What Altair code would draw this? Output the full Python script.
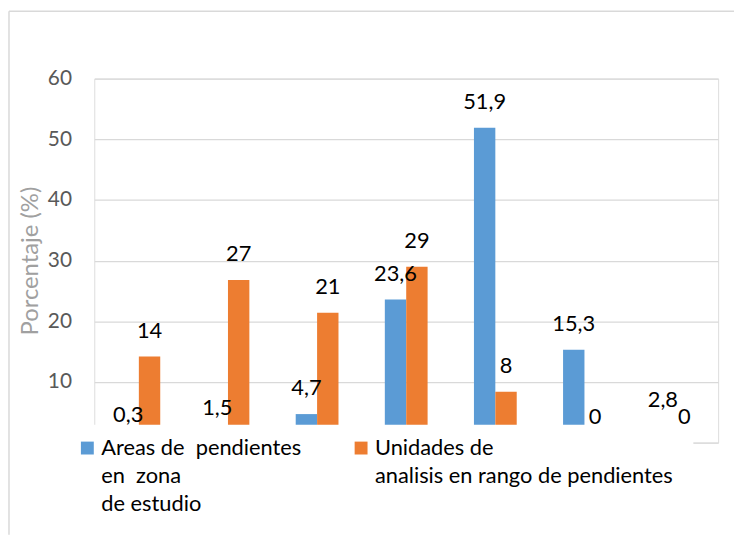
import altair as alt
import pandas as pd

categories = ["0-3", "3-7", "7-12", "12-25", "25-50", "50-75", ">75"]
series = ["Areas de \u00a0pendientes\nen \u00a0zona\nde estudio",
          "Unidades de\nanalisis en rango de pendientes"]
areas = [0.3, 1.5, 4.7, 23.6, 51.9, 15.3, 2.8]
areas_labels = ["0,3", "1,5", "4,7", "23,6", "51,9", "15,3", "2,8"]
unidades = [14.2, 26.8, 21.4, 29.0, 8.4, 0, 0]
unidades_labels = ["14", "27", "21", "29", "8", "0", "0"]
colors = ["#5B9BD5", "#ED7D31"]
y_ticks = [0, 10, 20, 30, 40, 50, 60]

rows = []
for s, vals, labs in [(series[0], areas, areas_labels), (series[1], unidades, unidades_labels)]:
    for c, v, l in zip(categories, vals, labs):
        rows.append({"cat": c, "series": s, "value": v, "label": l})
df = pd.DataFrame(rows)

base = alt.Chart(df).encode(
    x=alt.X("cat:N", sort=categories,
            scale=alt.Scale(paddingInner=0.52, paddingOuter=0.26), axis=None),
    xOffset=alt.XOffset("series:N", sort=series, scale=alt.Scale(domain=series)),
    y=alt.Y("value:Q", scale=alt.Scale(domain=[0, 60], nice=False, zero=True),
            axis=alt.Axis(values=y_ticks, grid=True, gridColor="#d9d9d9", gridWidth=1.3,
                          domain=False, ticks=False, labelFont="Lato", labelFontSize=21,
                          labelColor="#595959", labelPadding=23,
                          labelExpr="datum.value == 0 ? '' : datum.label",
                          title="Porcentaje (%)", titleFont="Lato", titleFontSize=24,
                          titleFontWeight="normal", titleColor="#a0a0a0", titlePadding=5)),
)

bars = base.mark_bar().encode(
    color=alt.Color("series:N", sort=series,
                    scale=alt.Scale(domain=series, range=colors),
                    legend=alt.Legend(orient="none", legendX=-38, legendY=349,
                                      direction="horizontal", columns=2, padding=20,
                                      fillColor="white", title=None,
                                      symbolType="M-1,-2.154H1V-0.154H-1Z",
                                      symbolSize=169, symbolStrokeWidth=0, symbolOpacity=1,
                                      labelFont="Lato", labelFontSize=22, labelColor="black",
                                      labelLimit=500, labelOffset=3,
                                      labelBaseline="alphabetic",
                                      labelExpr="split(indexof(datum.label, 'Unidades') == 0 ? datum.label + '\\n ' : datum.label, '\\n')",
                                      columnPadding=49, zindex=2))
)

labels = base.mark_text(dy=-19, baseline="alphabetic", font="Lato", fontSize=22,
                        color="black").encode(text="label:N")

frame = alt.Data(values=[{"f": 1}])
frame_left = alt.Chart(frame).mark_rule(color="#d9d9d9", strokeWidth=1.5).encode(
    x=alt.value(-86), y=alt.value(-68), y2=alt.value(460))
frame_top = alt.Chart(frame).mark_rule(color="#d9d9d9", strokeWidth=1.5).encode(
    x=alt.value(-86), x2=alt.value(645), y=alt.value(-68))

chart = alt.layer(frame_left, frame_top, bars, labels).properties(
    width=629, height=367, padding=0
).configure_view(stroke=None).configure(style={"guide-label": {"lineHeight": 28}})

chart.save("out.html", embed_options={"renderer": "svg", "actions": False})
